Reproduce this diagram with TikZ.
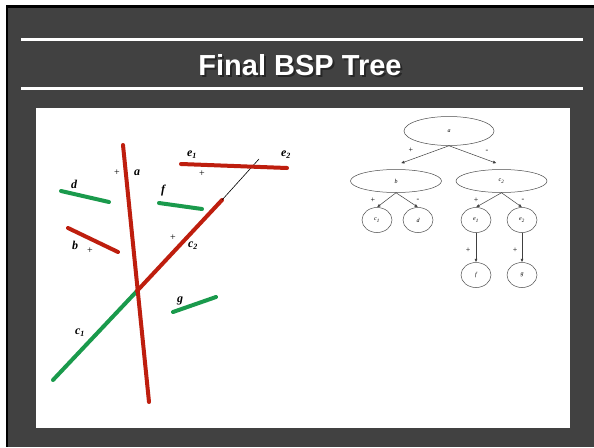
\documentclass[tikz,border=0pt]{standalone}
\usepackage{fontspec}
\setmainfont{Liberation Serif}
\newfontfamily\titlefont{Liberation Sans}
\usetikzlibrary{shapes.geometric,arrows.meta}
\definecolor{slidegray}{HTML}{414141}
\definecolor{bspred}{HTML}{BE1E0E}
\definecolor{bspgreen}{HTML}{1A9A4C}
\begin{document}
\begin{tikzpicture}[x=1pt,y=-1pt,
  seg/.style={line width=4pt,line cap=round},
  lab/.style={font=\fontsize{12}{12}\selectfont\bfseries\itshape,inner sep=0pt},
  pm/.style={font=\fontsize{10}{10}\selectfont,inner sep=0pt},
  tn/.style={ellipse,draw=black!70,line width=0.5pt,inner sep=0pt,
    font=\fontsize{6}{7}\selectfont\itshape},
  big/.style={tn,minimum width=91pt,minimum height=23pt},
  small/.style={tn,minimum width=30pt,minimum height=25pt},
  tedge/.style={-{Latex[length=3.5pt,width=3pt]},line width=0.5pt,draw=black!75},
  tpm/.style={font=\fontsize{8}{8}\selectfont,inner sep=0pt},
  ttl/.style={font=\titlefont\fontsize{29}{29}\selectfont\bfseries,inner sep=0pt}]
\useasboundingbox (0,0) rectangle (594,447);
\fill[white] (0,0) rectangle (594,447);
\fill[black] (6,5) rectangle (594,447);
\fill[slidegray] (8,8) rectangle (594,447);
\fill[white] (21,38) rectangle (583,41);
\fill[white] (21,87) rectangle (583,90);
\node[ttl,text=black!85] (titleshadow) at (302,67) {Final BSP Tree};
\node[ttl,text=white] (title) at (300,65) {Final BSP Tree};
\fill[white] (36,108) rectangle (570,428);
% left drawing
\coordinate (aT) at (123,145);
\coordinate (aB) at (149,402);
\coordinate (cL) at (53,380);
\coordinate (cX) at (137,291);
\coordinate (cR) at (222,200);
\coordinate (cExt) at (259,159);
\coordinate (eL) at (181,164);
\coordinate (eR) at (287,168);
\coordinate (dL) at (61,191);
\coordinate (dR) at (109,202);
\coordinate (fL) at (159,203);
\coordinate (fR) at (202,209);
\coordinate (bL) at (68,228);
\coordinate (bR) at (118,252);
\coordinate (gL) at (173,312);
\coordinate (gR) at (216,297);
\draw[seg,bspgreen] (cL)--(cX);
\draw[seg,bspred] (cX)--(cR);
\draw[line width=0.6pt] (cR)--(cExt);
\draw[seg,bspred] (eL)--(eR);
\draw[seg,bspred] (aT)--(aB);
\draw[seg,bspgreen] (dL)--(dR);
\draw[seg,bspgreen] (fL)--(fR);
\draw[seg,bspred] (bL)--(bR);
\draw[seg,bspgreen] (gL)--(gR);
\node[lab] (la) at (137,173) {a};
\node[pm] (pa) at (117,173) {+};
\node[lab] (le1) at (192,155) {e\textsubscript{1}};
\node[lab] (le2) at (286,155) {e\textsubscript{2}};
\node[pm] (pe) at (202,174) {+};
\node[lab] (ld) at (74,184) {d};
\node[lab] (lf) at (163,191) {f};
\node[lab] (lb) at (75,245) {b};
\node[pm] (pb) at (90,251) {+};
\node[lab] (lc2) at (193,246) {c\textsubscript{2}};
\node[pm] (pc) at (173,238) {+};
\node[lab] (lg) at (180,301) {g};
\node[lab] (lc1) at (80,333) {c\textsubscript{1}};
% tree
\node[tn,minimum width=90pt,minimum height=29pt] (ta) at (449,131) {a};
\node[big] (tb) at (396,181) {b};
\node[big] (tc2) at (501.5,181) {c\textsubscript{2}};
\node[small] (tc1) at (377,220) {c\textsubscript{1}};
\node[small] (td) at (418,220) {d};
\node[small] (te1) at (476,220) {e\textsubscript{1}};
\node[small] (te2) at (522,220) {e\textsubscript{2}};
\node[small] (tf) at (476,275) {f};
\node[small] (tg) at (522,275) {g};
\draw[tedge] (ta.south) -- ([shift={(5,-6)}]tb.north);
\draw[tedge] (ta.south) -- ([shift={(-5,-6)}]tc2.north);
\draw[tedge] (tb.south) -- (tc1.north);
\draw[tedge] (tb.south) -- (td.north);
\draw[tedge] (tc2.south) -- (te1.north);
\draw[tedge] (tc2.south) -- (te2.north);
\draw[tedge] (te1.south) -- (tf.north);
\draw[tedge] (te2.south) -- (tg.north);
\node[tpm] (p1) at (411,150) {+};
\node[tpm] (m1) at (487,151) {-};
\node[tpm] (p2) at (373,200) {+};
\node[tpm] (m2) at (418,200) {-};
\node[tpm] (p3) at (476,200) {+};
\node[tpm] (m3) at (523,200) {-};
\node[tpm] (p4) at (468,250) {+};
\node[tpm] (p5) at (515,250) {+};
\end{tikzpicture}
\end{document}
